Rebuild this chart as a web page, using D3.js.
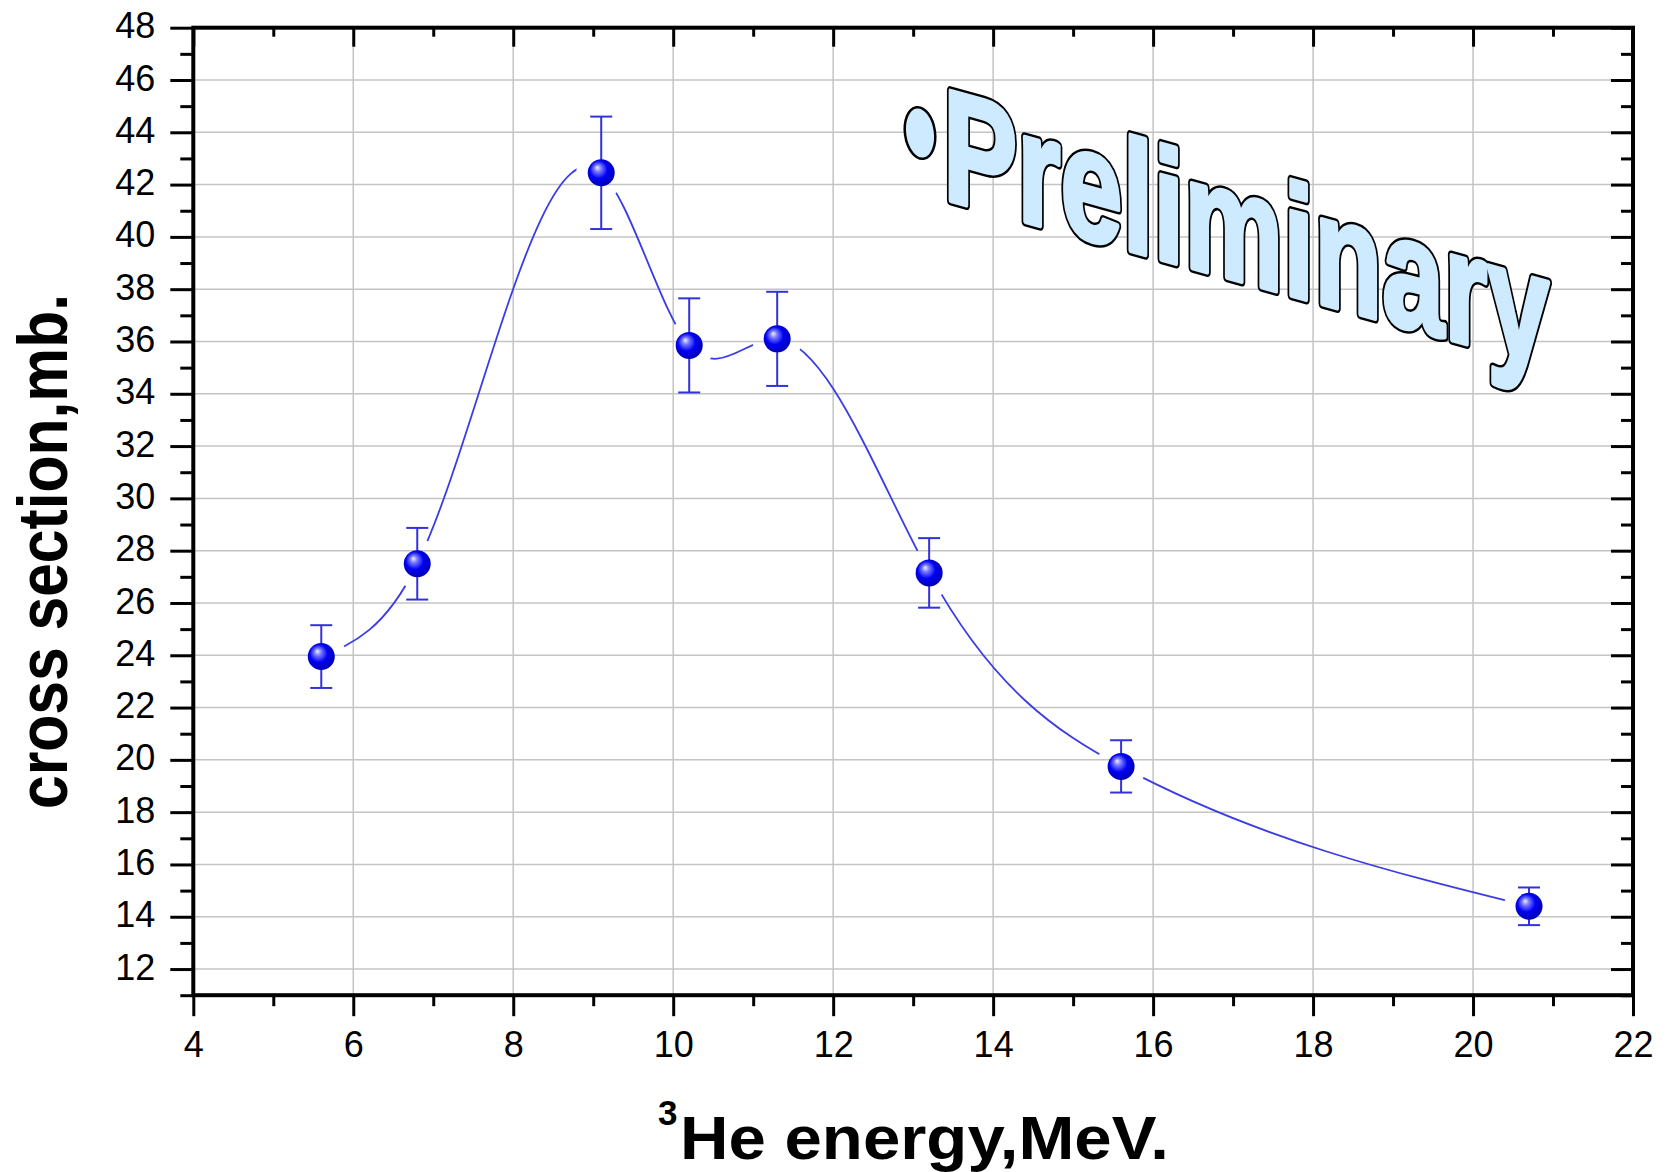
<!DOCTYPE html>
<html>
<head>
<meta charset="utf-8">
<script src="https://cdn.jsdelivr.net/npm/d3@7"></script>
<style>
  body { margin: 0; background: #fff; }
  svg { display: block; font-family: "Liberation Sans", Arial, sans-serif; }
</style>
</head>
<body>
<svg width="1667" height="1172"></svg>
<script>
// measured values
var energy = [5.6, 6.8, 9.1, 10.2, 11.3, 13.2, 15.6, 20.7];
var sigma  = [23.95, 27.5, 42.45, 35.85, 36.1, 27.15, 19.75, 14.4];
var err    = [1.2, 1.37, 2.15, 1.8, 1.8, 1.33, 1.0, 0.72];

var xTicks = d3.range(4, 23, 2);
var xMinor = d3.range(5, 22, 2);
var yTicks = d3.range(12, 49, 2);
var yMinor = d3.range(11, 48, 2);

var svg = d3.select("svg");

var x = d3.scaleLinear().domain([4, 22]).range([193.3, 1633]);
var y = d3.scaleLinear().domain([11, 48]).range([995.2, 27.7]);

var pts = energy.map(function(e, i){ return {x: e, y: sigma[i], e: err[i]}; });

// y(x) natural cubic spline as a d3 curve (like Origin's spline connect)
function SplineX(context){ this._context = context; }
SplineX.prototype = {
  areaStart: function(){ this._line = 0; },
  areaEnd: function(){ this._line = NaN; },
  lineStart: function(){ this._x = []; this._y = []; },
  point: function(px, py){ this._x.push(+px); this._y.push(+py); },
  lineEnd: function(){
    var X = this._x, Y = this._y, n = X.length, c = this._context;
    if (!n) return;
    c.moveTo(X[0], Y[0]);
    if (n < 3) { if (n == 2) c.lineTo(X[1], Y[1]); return; }
    var h = [], i;
    for (i = 0; i < n - 1; i++) h.push(X[i+1] - X[i]);
    var a = [], b = [], cc = [], r = [];
    for (i = 1; i < n - 1; i++) {
      a.push(h[i-1]); b.push(2 * (h[i-1] + h[i])); cc.push(h[i]);
      r.push(6 * ((Y[i+1] - Y[i]) / h[i] - (Y[i] - Y[i-1]) / h[i-1]));
    }
    var m = r.length;
    for (i = 1; i < m; i++) {
      var w = a[i] / b[i-1];
      b[i] -= w * cc[i-1]; r[i] -= w * r[i-1];
    }
    var M = new Array(n).fill(0);
    M[m] = r[m-1] / b[m-1];
    for (i = m - 2; i >= 0; i--) M[i+1] = (r[i] - cc[i] * M[i+2]) / b[i];
    for (i = 0; i < n - 1; i++) {
      var s = (Y[i+1] - Y[i]) / h[i];
      var d0 = s - h[i] * (2 * M[i] + M[i+1]) / 6;
      var d1 = s + h[i] * (M[i] + 2 * M[i+1]) / 6;
      c.bezierCurveTo(X[i] + h[i] / 3, Y[i] + d0 * h[i] / 3,
                      X[i+1] - h[i] / 3, Y[i+1] - d1 * h[i] / 3,
                      X[i+1], Y[i+1]);
    }
  }
};
var curveSplineX = function(context){ return new SplineX(context); };

//gradient for the ball markers
var defs = svg.append("defs");
var grad = defs.append("radialGradient").attr("id", "ball")
    .attr("cx", "45%").attr("cy", "45%").attr("r", "60%")
    .attr("fx", "35%").attr("fy", "30%");
grad.append("stop").attr("offset", "0%").attr("stop-color", "#eef2ff");
grad.append("stop").attr("offset", "22%").attr("stop-color", "#7a7aff");
grad.append("stop").attr("offset", "55%").attr("stop-color", "#0000f5");
grad.append("stop").attr("offset", "100%").attr("stop-color", "#0000a8");

//mask to leave gaps around symbols
var mask = defs.append("mask").attr("id", "gap").attr("maskUnits", "userSpaceOnUse")
    .attr("x", 0).attr("y", 0).attr("width", 1667).attr("height", 1172);
mask.append("rect").attr("width", 1667).attr("height", 1172).attr("fill", "#fff");
mask.selectAll("circle").data(pts).enter().append("circle")
    .attr("cx", function(d){ return x(d.x); })
    .attr("cy", function(d){ return y(d.y); })
    .attr("r", 25).attr("fill", "#000");

//grid
svg.append("g").selectAll("line").data(xTicks.slice(1, -1)).enter().append("line")
    .attr("x1", function(d){ return x(d); }).attr("x2", function(d){ return x(d); })
    .attr("y1", y(48)).attr("y2", y(11))
    .attr("stroke", "#c4c4c4").attr("stroke-width", 1.5);
svg.append("g").selectAll("line").data(yTicks.slice(0, -1)).enter().append("line")
    .attr("y1", function(d){ return y(d); }).attr("y2", function(d){ return y(d); })
    .attr("x1", x(4)).attr("x2", x(22))
    .attr("stroke", "#c4c4c4").attr("stroke-width", 1.5);

//axes
var styleAxis = function(g){
  g.select(".domain").remove();
  g.selectAll(".tick line").attr("stroke", "#000").attr("stroke-width", 3);
  g.selectAll(".tick text").attr("fill", "#000").style("font-size", "36px");
};

svg.append("g").attr("transform", "translate(" + x(4) + ",0)")
    .call(d3.axisLeft(y).tickValues(yTicks).tickSize(23).tickPadding(15))
    .call(styleAxis)
    .selectAll(".tick text").attr("dy", "0.28em");
svg.append("g").attr("transform", "translate(" + x(4) + ",0)")
    .call(d3.axisLeft(y).tickValues(yMinor).tickSize(13).tickFormat(""))
    .call(styleAxis);

svg.append("g").attr("transform", "translate(0," + y(11) + ")")
    .call(d3.axisBottom(x).tickValues(xTicks).tickSize(21).tickPadding(15))
    .call(styleAxis);
svg.append("g").attr("transform", "translate(0," + y(11) + ")")
    .call(d3.axisBottom(x).tickValues(xMinor).tickSize(11).tickFormat(""))
    .call(styleAxis);

svg.append("g").attr("transform", "translate(0," + y(48) + ")")
    .call(d3.axisTop(x).tickValues(xTicks).tickSize(-19).tickFormat(""))
    .call(styleAxis);
svg.append("g").attr("transform", "translate(0," + y(48) + ")")
    .call(d3.axisTop(x).tickValues(xMinor).tickSize(-9).tickFormat(""))
    .call(styleAxis);

svg.append("g").attr("transform", "translate(" + x(22) + ",0)")
    .call(d3.axisRight(y).tickValues(yTicks).tickSize(-22).tickFormat(""))
    .call(styleAxis);
svg.append("g").attr("transform", "translate(" + x(22) + ",0)")
    .call(d3.axisRight(y).tickValues(yMinor).tickSize(-12).tickFormat(""))
    .call(styleAxis);

svg.append("rect")
    .attr("x", x(4)).attr("y", y(48))
    .attr("width", x(22) - x(4)).attr("height", y(11) - y(48))
    .attr("fill", "none").attr("stroke", "#000").attr("stroke-width", 4);

//Preliminary stamp: black outline layer, then fattened light blue layer
svg.append("ellipse")
    .attr("cx", 920).attr("cy", 133).attr("rx", 15).attr("ry", 26)
    .attr("transform", "rotate(-8,920,133)")
    .attr("fill", "#cdeaff").attr("stroke", "#000").attr("stroke-width", 2.5);
var stamp = svg.append("g").attr("transform", "translate(943,198.6) skewY(15.5) scale(0.70,1)");
stamp.append("text")
    .style("font-size", "159px").style("font-weight", "bold")
    .attr("fill", "#000").attr("stroke", "#000").attr("stroke-width", 10)
    .attr("stroke-linejoin", "round")
    .text("Preliminary");
stamp.append("text")
    .style("font-size", "159px").style("font-weight", "bold")
    .attr("fill", "#cdeaff").attr("stroke", "#cdeaff").attr("stroke-width", 5)
    .attr("stroke-linejoin", "round")
    .text("Preliminary");

//spline
var line = d3.line()
    .x(function(d){ return x(d.x); })
    .y(function(d){ return y(d.y); })
    .curve(curveSplineX);
svg.append("path").datum(pts)
    .attr("d", line)
    .attr("fill", "none").attr("stroke", "#3c3ce6").attr("stroke-width", 1.8)
    .attr("mask", "url(#gap)");

//error bars
var eb = svg.append("g").attr("stroke", "#3232dc").attr("stroke-width", 2);
eb.selectAll(".v").data(pts).enter().append("line")
    .attr("x1", function(d){ return x(d.x); }).attr("x2", function(d){ return x(d.x); })
    .attr("y1", function(d){ return y(d.y - d.e); }).attr("y2", function(d){ return y(d.y + d.e); });
eb.selectAll(".t").data(pts).enter().append("line")
    .attr("x1", function(d){ return x(d.x) - 11; }).attr("x2", function(d){ return x(d.x) + 11; })
    .attr("y1", function(d){ return y(d.y + d.e); }).attr("y2", function(d){ return y(d.y + d.e); });
eb.selectAll(".b").data(pts).enter().append("line")
    .attr("x1", function(d){ return x(d.x) - 11; }).attr("x2", function(d){ return x(d.x) + 11; })
    .attr("y1", function(d){ return y(d.y - d.e); }).attr("y2", function(d){ return y(d.y - d.e); });

//markers
svg.append("g").selectAll("circle").data(pts).enter().append("circle")
    .attr("cx", function(d){ return x(d.x); })
    .attr("cy", function(d){ return y(d.y); })
    .attr("r", 13.5)
    .attr("fill", "url(#ball)");

//axis titles
svg.append("text")
    .attr("transform", "translate(66.7,551.5) rotate(-90)")
    .attr("text-anchor", "middle")
    .attr("textLength", 515).attr("lengthAdjust", "spacingAndGlyphs")
    .style("font-size", "70px").style("font-weight", "bold")
    .text("cross section,mb.");

svg.append("text").attr("x", 658).attr("y", 1125)
    .style("font-size", "35px").style("font-weight", "bold")
    .text("3");
svg.append("text").attr("x", 680).attr("y", 1159)
    .attr("textLength", 489).attr("lengthAdjust", "spacingAndGlyphs")
    .style("font-size", "61px").style("font-weight", "bold")
    .text("He energy,MeV.");
</script>
</body>
</html>
